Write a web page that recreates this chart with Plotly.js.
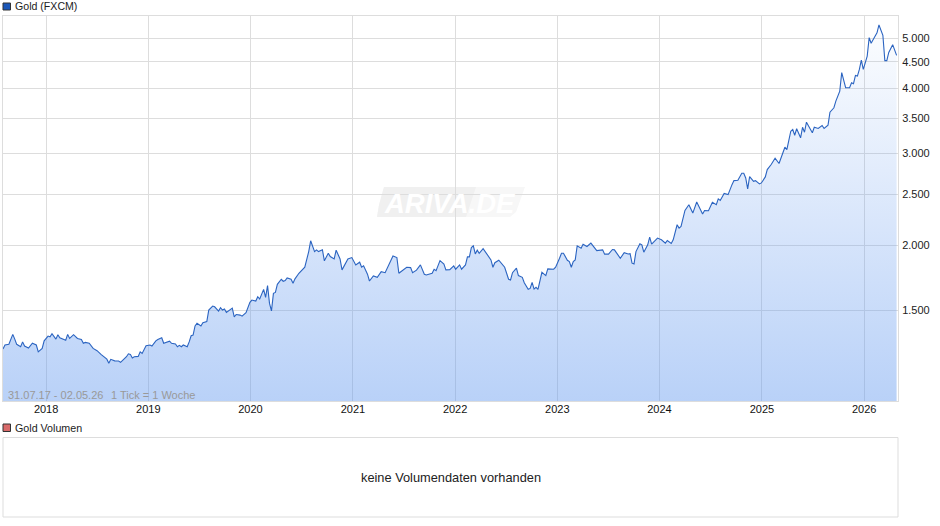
<!DOCTYPE html>
<html>
<head>
<meta charset="utf-8">
<script src="https://cdn.plot.ly/plotly-3.0.1.min.js"></script>
<style>html,body{margin:0;padding:0;background:#fff}</style>
</head>
<body>
<div id="myDiv" style="width:940px;height:526px"></div>
<script>
// weeks since 31.07.17 and the gold price
var weeks = [0,1,3,4,5,6,7,9,10,11,13,15,17,18,20,21,23,24,25,27,28,29,32,33,34,36,38,40,41,42,44,46,48,50,53,54,55,57,59,60,63,64,65,66,67,69,70,71,73,75,
  76,78,79,81,82,85,86,88,89,90,91,92,94,95,96,97,98,99,101,102,104,105,107,108,110,111,112,113,114,117,118,119,121,122,124,126,127,129,130,131,133,134,135,136,137,138,139,140,142,143,
  144,145,147,148,149,151,154,156,157,159,160,161,163,164,166,167,169,170,172,173,175,176,178,180,182,183,184,186,187,189,191,193,195,197,199,201,202,206,208,209,211,213,215,216,219,220,221,223,225,226,
  228,230,231,233,234,236,237,238,239,240,241,242,243,245,248,249,250,251,253,255,256,258,259,260,262,263,265,266,268,269,270,271,272,273,275,277,278,281,282,284,285,286,288,289,290,291,292,293,295,296,
  298,300,303,306,307,309,311,312,315,317,319,320,321,322,323,325,326,327,329,330,331,334,336,338,339,341,342,344,345,346,348,350,352,354,356,357,358,360,362,364,365,366,368,370,372,373,375,377,378,379,
  380,381,383,384,386,387,389,390,392,394,396,398,399,400,402,403,404,405,407,408,409,410,413,414,416,418,419,421,422,424,425,427,428,430,432,433,434,435,436,437,438,439,441,442,443,445,446,447,449,450,
  451,452,454,456];
var prices = [1262,1285,1289,1313,1347,1319,1289,1275,1303,1279,1268,1295,1285,1247,1266,1309,1337,1333,1351,1319,1345,1327,1313,1347,1323,1345,1323,1317,1295,1300,1295,1266,1253,1233,1207,1185,1206,1198,1197,1190,1220,1236,1233,1213,1220,1222,1247,1238,1281,1285,
  1279,1309,1317,1327,1295,1307,1295,1291,1275,1283,1275,1285,1275,1303,1339,1343,1398,1415,1398,1419,1425,1500,1527,1522,1493,1516,1500,1507,1485,1513,1456,1471,1467,1460,1482,1552,1568,1561,1591,1575,1644,1587,1671,1545,1495,1615,1622,1681,1719,1704,
  1709,1729,1719,1689,1722,1765,1813,1943,2038,1943,1958,1943,1958,1865,1929,1901,1881,1955,1881,1792,1846,1881,1892,1832,1854,1813,1824,1758,1706,1744,1734,1778,1770,1832,1906,1892,1765,1813,1810,1770,1790,1832,1758,1752,1765,1797,1786,1867,1838,1792,
  1794,1824,1797,1832,1797,1832,1898,1898,1978,1993,1923,1955,1929,1969,1892,1873,1813,1850,1870,1832,1813,1719,1714,1770,1806,1747,1734,1693,1644,1651,1696,1646,1659,1644,1773,1747,1800,1797,1813,1887,1929,1929,1870,1859,1813,1859,1873,1993,1973,2008,
  1987,2017,1952,1958,1921,1921,1961,1958,1887,1933,1923,1925,1846,1840,1943,2011,2002,1938,2002,2072,2008,2063,2047,2017,2041,2014,2047,2188,2156,2172,2331,2391,2304,2420,2338,2294,2331,2328,2416,2391,2453,2437,2514,2500,2613,2660,2664,2748,2748,2692,
  2564,2708,2652,2660,2621,2633,2704,2793,2856,2937,2869,3008,3084,3052,3310,3336,3252,3346,3215,3368,3295,3445,3287,3368,3350,3395,3350,3400,3601,3672,3782,3953,4290,4013,4013,4103,4085,4238,4225,4352,4536,4352,4617,5010,4885,5040,5115,5297,5060,4524,
  4524,4690,4855,4630];
var priceTicks = [1500,2000,2500,3000,3500,4000,4500,5000];
var priceLabels = ["1.500","2.000","2.500","3.000","3.500","4.000","4.500","5.000"];
var yearTicks = ["2018-01-01","2019-01-01","2020-01-01","2021-01-01","2022-01-01","2023-01-01","2024-01-01","2025-01-01","2026-01-01"];
var yearLabels = ["2018","2019","2020","2021","2022","2023","2024","2025","2026"];

var startMs = Date.UTC(2017, 6, 31);
var dates = weeks.map(function (w) {
  return new Date(startMs + w * 7 * 86400000).toISOString().slice(0, 10);
});

// pixel helpers for the decoration around the plot
function px(x) { return (x - 3) / 895; }
function py(y) { return (517 - y) / 501; }
var font = "Liberation Sans, Arial, sans-serif";

function note(x, y, text, size, color, anchor) {
  return {
    xref: "paper", yref: "paper", x: px(x), y: py(y), text: text, showarrow: false,
    xanchor: anchor || "left", yanchor: "middle", font: { family: font, size: size, color: color }
  };
}
function box(x0, y0, x1, y1, fill) {
  return {
    type: "rect", xref: "paper", yref: "paper", x0: px(x0), y0: py(y0), x1: px(x1), y1: py(y1),
    fillcolor: fill, line: { color: "#333", width: 1 }, layer: "above"
  };
}
function slant(points, fill) {
  var d = points.map(function (p, i) {
    return (i ? "L" : "M") + px(p[0]) + "," + py(p[1]);
  }).join(" ") + " Z";
  return { type: "path", xref: "paper", yref: "paper", path: d, fillcolor: fill, line: { width: 0 }, layer: "below" };
}

var data = [{
  type: "scatter",
  mode: "lines",
  x: dates,
  y: prices,
  line: { color: "#2b64c1", width: 1.1 },
  fill: "tozeroy",
  fillgradient: {
    type: "vertical",
    start: 1003,
    stop: 5512,
    colorscale: [[0, "rgba(99,153,239,0.45)"], [1, "rgba(99,153,239,0.01)"]]
  },
  hoverinfo: "skip"
}];

var layout = {
  width: 940, height: 526,
  margin: { t: 16, r: 42, l: 3, b: 9 },
  paper_bgcolor: "#fff",
  plot_bgcolor: "rgba(0,0,0,0)",
  showlegend: false,
  font: { family: font, size: 12, color: "#222" },
  xaxis: {
    type: "date",
    range: ["2017-07-31", "2026-05-02"],
    tickmode: "array", tickvals: yearTicks, ticktext: yearLabels,
    showgrid: true, gridcolor: "#ddd", gridwidth: 1,
    showline: true, linecolor: "#ddd", linewidth: 1, mirror: true,
    ticks: "", zeroline: false, ticklabelstandoff: -2,
    tickfont: { family: font, size: 11, color: "#111" },
    anchor: "y"
  },
  yaxis: {
    type: "log",
    domain: [(517 - 401) / 501, 1],
    range: [Math.log10(1003), Math.log10(5512)],
    side: "right",
    tickmode: "array", tickvals: priceTicks, ticktext: priceLabels,
    showgrid: true, gridcolor: "#ddd", gridwidth: 1,
    showline: true, linecolor: "#ddd", linewidth: 1, mirror: true,
    ticks: "", zeroline: false, ticklabelstandoff: 1,
    tickfont: { family: font, size: 11, color: "#222" },
    anchor: "x"
  },
  shapes: [
    slant([[384, 187], [525, 187], [516, 212], [510, 217], [377, 217], [379, 205]], "#f7f7f7"),
    slant([[384, 187], [476, 187], [466, 217], [377, 217], [379, 205]], "#f0f0f0"),
    box(3, 3, 10.5, 10, "#1a56b8"),
    box(3, 424, 10.5, 431.5, "#d96a6a"),
    { type: "rect", xref: "paper", yref: "paper", x0: px(3), y0: py(437.5), x1: px(898), y1: py(517), line: { color: "#ddd", width: 1 }, fillcolor: "#fff" }
  ],
  annotations: [
    note(13, 5.5, "Gold (FXCM)", 10.6, "#222"),
    note(13, 428, "Gold Volumen", 10.7, "#222"),
    note(6, 395, "31.07.17 - 02.05.26", 11, "#999"),
    note(109, 395, "1 Tick = 1 Woche", 11, "#999"),
    note(451, 477.5, "keine Volumendaten vorhanden", 12.8, "#222", "center"),
    {
      xref: "paper", yref: "paper", x: px(450), y: py(203), text: "<b><i>ARIVA.DE</i></b>", showarrow: false,
      xanchor: "center", yanchor: "middle", font: { family: font, size: 27.5, color: "#fff" }
    }
  ]
};

Plotly.newPlot("myDiv", data, layout, { displayModeBar: false, staticPlot: true });
</script>
</body>
</html>
